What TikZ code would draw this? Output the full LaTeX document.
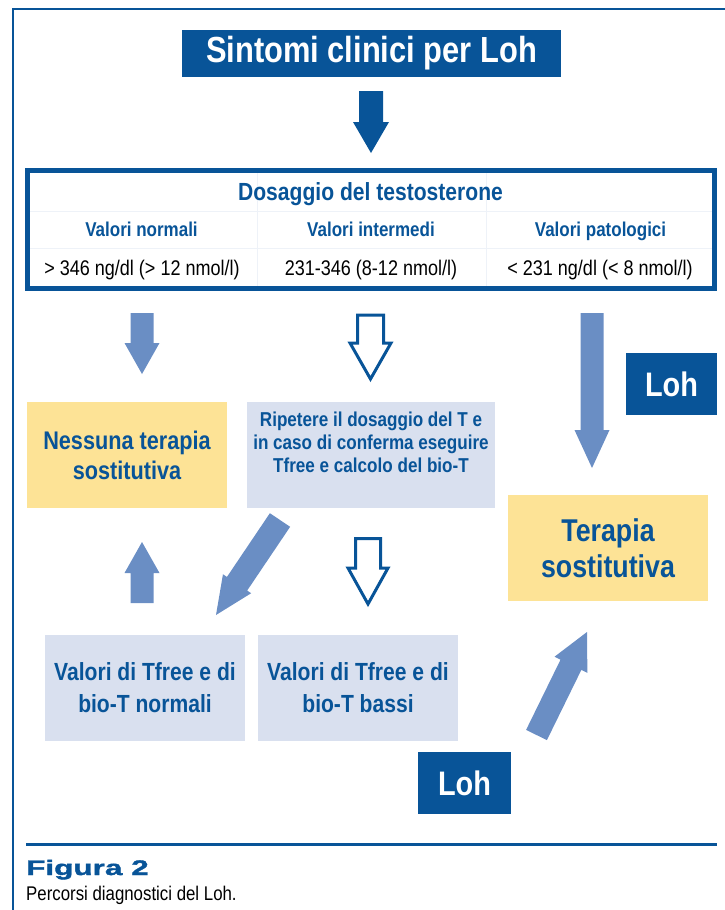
\documentclass[tikz,border=0pt]{standalone}
\usepackage{fontspec}
\setmainfont{Liberation Sans}
\newfontfamily\cnd{Liberation Sans}[FakeStretch=0.85]
\newfontfamily\heavy{Liberation Sans Bold}[FakeStretch=1.5,FakeBold=1.8]
\usetikzlibrary{calc}
\definecolor{dblue}{RGB}{8,84,152}
\definecolor{lblue}{RGB}{106,142,196}
\definecolor{yel}{RGB}{253,227,150}
\definecolor{pale}{RGB}{217,224,239}
\definecolor{grid}{RGB}{238,242,248}
\newcommand\blockarr[6]{%
  \coordinate (ba-s) at (#2);
  \coordinate (ba-e) at (#3);
  \coordinate (ba-h) at ($(ba-e)!#6!(ba-s)$);
  \path[#1] ($(ba-s)!#4!90:(ba-e)$) -- ($(ba-h)!#4!90:(ba-e)$) -- ($(ba-h)!#5!90:(ba-e)$)
    -- (ba-e) -- ($(ba-h)!#5!-90:(ba-e)$) -- ($(ba-h)!#4!-90:(ba-e)$) -- ($(ba-s)!#4!-90:(ba-e)$) -- cycle;
}
\begin{document}
\begin{tikzpicture}[x=1pt,y=-1pt,
  titlebox/.style={fill=dblue,text=white,inner sep=0pt,font=\cnd\bfseries\fontsize{36.3}{40}\selectfont},
  lohbox/.style={fill=dblue,text=white,inner sep=0pt,minimum width=92pt,minimum height=62pt,font=\cnd\bfseries\fontsize{34}{38}\selectfont},
  yellowbox/.style={fill=yel,inner sep=0pt,minimum width=200pt,minimum height=106pt,text=dblue,align=center},
  palebox/.style={fill=pale,inner sep=0pt,minimum width=200pt,minimum height=106pt,text=dblue,align=center},
  colhead/.style={text=dblue,inner sep=0pt,anchor=base,font=\cnd\bfseries\fontsize{20}{23}\selectfont},
  colval/.style={text=black,inner sep=0pt,anchor=base,font=\cnd\fontsize{21.2}{24}\selectfont},
  lightarr/.style={fill=lblue},
  darkarr/.style={fill=dblue},
  hollowarr/.style={draw=dblue,fill=white,line width=3pt,line join=miter},
]
\useasboundingbox (0,0) rectangle (725,910);
% outer frame
\draw[dblue,line width=2.5pt] (725,9) -- (13,9) -- (13,910);
% title
\node[titlebox,minimum width=379pt,minimum height=47pt] (title) at (371.5,53.5) {Sintomi clinici per Loh};
% dosage table
\draw[grid,line width=0.5pt] (257,172) -- (257,288) (486,172) -- (486,288)
  (30,211) -- (712,211) (30,248) -- (712,248);
\node[draw=dblue,line width=5pt,inner sep=0pt,minimum width=687pt,minimum height=118pt] (dos) at (371,229.5) {};
\node[text=dblue,inner sep=0pt,anchor=base,font=\cnd\bfseries\fontsize{24.8}{28}\selectfont] (dost) at (370.5,200) {Dosaggio del testosterone};
\node[colhead] (h1) at (141.5,236) {Valori normali};
\node[colhead] (h2) at (371,236) {Valori intermedi};
\node[colhead] (h3) at (600.5,236) {Valori patologici};
\node[colval] (v1) at (142,275) {> 346 ng/dl (> 12 nmol/l)};
\node[colval] (v2) at (371,275) {231-346 (8-12 nmol/l)};
\node[colval] (v3) at (600,275) {< 231 ng/dl (< 8 nmol/l)};
% boxes
\node[yellowbox,font=\cnd\bfseries\fontsize{25.5}{30}\selectfont] (ness) at (127,455) {Nessuna terapia\\sostitutiva};
\node[palebox,minimum width=248pt] (rip) at (371,455) {};
\node[text=dblue,align=center,inner sep=0pt,anchor=north,font=\cnd\bfseries\fontsize{20.1}{23}\selectfont] (ript) at (371,411.5) {Ripetere il dosaggio del T e\\in caso di conferma eseguire\\Tfree e calcolo del bio-T};
\node[yellowbox,font=\cnd\bfseries\fontsize{31.5}{36}\selectfont] (ter) at (608,548) {Terapia\\sostitutiva};
\node[palebox,font=\cnd\bfseries\fontsize{24.8}{32}\selectfont] (vn) at (145,688) {Valori di Tfree e di\\bio-T normali};
\node[palebox,font=\cnd\bfseries\fontsize{24.8}{32}\selectfont] (vb) at (358,688) {Valori di Tfree e di\\bio-T bassi};
\node[lohbox,minimum width=91pt] (loh1) at (671.5,384) {Loh};
\node[lohbox,minimum width=93pt] (loh2) at (464.5,783) {Loh};
% arrow end points
\coordinate (a0s) at (371,91);   \coordinate (a0e) at (371,153);
\coordinate (a1s) at (142,313);  \coordinate (a1e) at (142,374);
\coordinate (a2s) at (370.5,315);\coordinate (a2e) at (370.5,379);
\coordinate (a3s) at (592,313);  \coordinate (a3e) at (592,468);
\coordinate (a4s) at (280,520);  \coordinate (a4e) at (216,615);
\coordinate (a5s) at (142,603);  \coordinate (a5e) at (142,542);
\coordinate (a6s) at (368,538.5);\coordinate (a6e) at (368,604);
\coordinate (a7s) at (536.5,735);\coordinate (a7e) at (587,632);
% arrows
\blockarr{darkarr}{a0s}{a0e}{12pt}{18pt}{31pt}
\blockarr{lightarr}{a1s}{a1e}{11.5pt}{17.5pt}{31pt}
\blockarr{hollowarr}{a2s}{a2e}{13pt}{20.5pt}{36pt}
\blockarr{lightarr}{a3s}{a3e}{11.5pt}{17.5pt}{38pt}
\blockarr{lightarr}{a4s}{a4e}{12.2pt}{17pt}{37.7pt}
\blockarr{lightarr}{a5s}{a5e}{11.5pt}{17.5pt}{31pt}
\blockarr{hollowarr}{a6s}{a6e}{12.5pt}{20pt}{36pt}
\blockarr{lightarr}{a7s}{a7e}{11.6pt}{18.3pt}{36.5pt}
% caption
\draw[dblue,line width=3pt] (26,844) -- (717,844);
\node[text=dblue,inner sep=0pt,anchor=base west,font=\heavy\fontsize{21}{24}\selectfont] (fig) at (26,875) {Figura 2};
\node[text=black,inner sep=0pt,anchor=base west,font=\cnd\fontsize{19.8}{23}\selectfont] (cap) at (26,900) {Percorsi diagnostici del Loh.};
\end{tikzpicture}
\end{document}
